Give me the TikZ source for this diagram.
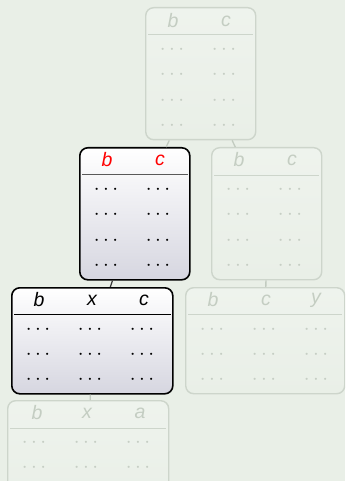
\documentclass[tikz,border=0pt]{standalone}
\usepackage{fontspec}
\newfontfamily\hdrfont{Liberation Sans}
\definecolor{bg}{HTML}{E9EFE7}
\definecolor{fadeline}{HTML}{CDD5CB}
\definecolor{fadelink}{HTML}{C2CBC0}
\definecolor{fadetext}{HTML}{C4CDC2}
\definecolor{fadedots}{HTML}{C6CEC4}
\definecolor{boxbot}{HTML}{D6D6E0}
\tikzset{
  tbl/.style={draw=black, rounded corners=8pt, line width=1.6pt, inner sep=0pt, anchor=north west,
    top color=white, bottom color=boxbot},
  fadetbl/.style={draw=fadeline, rounded corners=8pt, line width=1.4pt, inner sep=0pt, anchor=north west,
    top color=bg!75!white, bottom color=bg},
  hd/.style={font=\hdrfont\itshape\fontsize{19.5}{19.5}\selectfont, inner sep=0pt},
  dt/.style={font=\fontsize{21.5}{21.5}\selectfont, inner sep=0pt},
  link/.style={line width=1.3pt, draw=fadelink},
  activelink/.style={line width=1.2pt, draw=black!80},
  hrule/.style={line width=1pt},
}
\begin{document}
\begin{tikzpicture}[x=1pt,y=-1pt]
\useasboundingbox (0,0) rectangle (345,481);
\clip (0,0) rectangle (345,481);
\fill[bg] (0,0) rectangle (345,481);

% ---- boxes ----
\node[fadetbl, minimum width=110pt, minimum height=132pt] (T) at (145,7) {};
\node[tbl, minimum width=110pt, minimum height=132pt] (R) at (79,147) {};
\node[fadetbl, minimum width=110pt, minimum height=132pt] (M) at (211,147) {};
\node[tbl, minimum width=161pt, minimum height=106pt] (B) at (11,287) {};
\node[fadetbl, minimum width=159pt, minimum height=106pt] (BR) at (185,287) {};
\node[fadetbl, minimum width=161pt, minimum height=106pt] (F) at (7,400) {};

% ---- connectors ----
\draw[link] (T) -- (R);
\draw[link] (T) -- (M);
\draw[activelink] (R) -- (B);
\draw[link] (M) -- (BR);
\draw[link] (B) -- (F);

% ---- header rules ----
\draw[hrule, fadeline] ([xshift=3pt,yshift=-28pt]T.north west) -- ([xshift=-3pt,yshift=-28pt]T.north east);
\draw[hrule, black!65] ([xshift=3pt,yshift=-27pt]R.north west) -- ([xshift=-3pt,yshift=-27pt]R.north east);
\draw[hrule, fadeline] ([xshift=3pt,yshift=-28pt]M.north west) -- ([xshift=-3pt,yshift=-28pt]M.north east);
\draw[hrule, black] ([xshift=3pt,yshift=-27pt]B.north west) -- ([xshift=-3pt,yshift=-27pt]B.north east);
\draw[hrule, fadeline] ([xshift=3pt,yshift=-27pt]BR.north west) -- ([xshift=-3pt,yshift=-27pt]BR.north east);
\draw[hrule, fadeline] ([xshift=3pt,yshift=-28pt]F.north west) -- ([xshift=-3pt,yshift=-28pt]F.north east);

% ---- headers ----
\foreach \c/\t [count=\i] in {28/b,81/c}
  \node[hd, fadetext] (T-h\i) at ([xshift=\c pt,yshift=-14pt]T.north west) {\t};
\foreach \c/\t [count=\i] in {28/b,81/c}
  \node[hd, red] (R-h\i) at ([xshift=\c pt,yshift=-13pt]R.north west) {\t};
\foreach \c/\t [count=\i] in {28/b,81/c}
  \node[hd, fadetext] (M-h\i) at ([xshift=\c pt,yshift=-13pt]M.north west) {\t};
\foreach \c/\t [count=\i] in {28/b,81/x,133/c}
  \node[hd, black] (B-h\i) at ([xshift=\c pt,yshift=-13pt]B.north west) {\t};
\foreach \c/\t [count=\i] in {28/b,81/c,131/y}
  \node[hd, fadetext] (BR-h\i) at ([xshift=\c pt,yshift=-13pt]BR.north west) {\t};
\foreach \c/\t [count=\i] in {30/b,80/x,133/a}
  \node[hd, fadetext] (F-h\i) at ([xshift=\c pt,yshift=-13pt]F.north west) {\t};

% ---- dots ----
\foreach \r [evaluate=\r as \yy using -17.7-25.3*\r] in {1,...,4}{
  \foreach \c [count=\i] in {27,79}{
    \node[dt, fadedots] (T-\r-\i) at ([xshift=\c pt,yshift=\yy pt]T.north west) {$\cdots$};
    \node[dt, black] (R-\r-\i) at ([xshift=\c pt,yshift=\yy pt]R.north west) {$\cdots$};
    \node[dt, fadedots] (M-\r-\i) at ([xshift=\c pt,yshift=\yy pt]M.north west) {$\cdots$};
  }
}
\foreach \r [evaluate=\r as \yy using -17.5-25*\r] in {1,...,3}{
  \foreach \c [count=\i] in {27,79,131}{
    \node[dt, black] (B-\r-\i) at ([xshift=\c pt,yshift=\yy pt]B.north west) {$\cdots$};
    \node[dt, fadedots] (BR-\r-\i) at ([xshift=\c pt,yshift=\yy pt]BR.north west) {$\cdots$};
  }
}
\foreach \r [evaluate=\r as \yy using -17.5-25*\r] in {1,2}{
  \foreach \c [count=\i] in {27,79,131}{
    \node[dt, fadedots] (F-\r-\i) at ([xshift=\c pt,yshift=\yy pt]F.north west) {$\cdots$};
  }
}
\end{tikzpicture}
\end{document}
